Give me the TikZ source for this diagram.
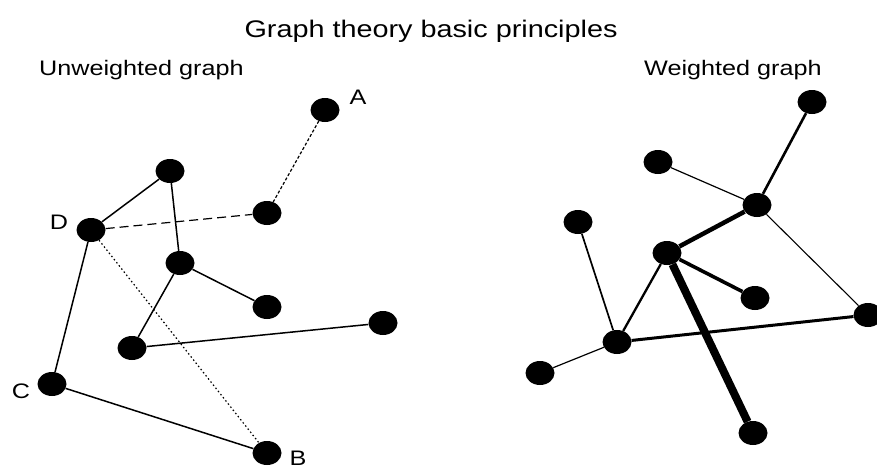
\documentclass[tikz,border=0pt]{standalone}
\usepackage{fontspec}
\setmainfont{Liberation Sans}[FakeStretch=1.2]
\usetikzlibrary{shapes.geometric}

\tikzset{
  dot/.style={ellipse,fill=black,minimum width=29pt,minimum height=24pt,inner sep=0pt},
  lbl/.style={font=\fontsize{21}{25}\selectfont,inner sep=1pt},
  link/.style={line width=1.5pt},
}

\begin{document}
\begin{tikzpicture}[x=1pt,y=-1pt]
  \useasboundingbox (0,0) rectangle (877,469);
  % titles
  \node[anchor=base,font=\fontsize{24}{28}\selectfont] (title) at (431,37) {Graph theory basic principles};
  \node[anchor=base west,lbl] (unw) at (38,75) {Unweighted graph};
  \node[anchor=base west,lbl] (wgt) at (643,75) {Weighted graph};

  % unweighted graph
  \foreach \name/\x/\y in {A/325/110,u1/170/171,D/91/230,u2/267/213,u3/180/263,
                           u4/267/307,u5/383/323,u6/132/348,C/52/384,B/267/453}{
    \node[dot] (\name) at (\x,\y) {};
  }
  \foreach \a/\b in {D/u1,D/C,u1/u3,u3/u4,u3/u6,u6/u5,C/B}{
    \draw[link] (\a) -- (\b);
  }
  \draw[link,line width=1.2pt,dash pattern=on 9pt off 5pt] (D) -- (u2);
  \draw[link,line width=1.2pt,dash pattern=on 3pt off 2pt] (A) -- (u2);
  \draw[link,line width=1.2pt,dash pattern=on 1.5pt off 2.5pt] (D) -- (B);
  \node[lbl] (labA) at (358,97.5) {A};
  \node[lbl] (labB) at (298,458.5) {B};
  \node[lbl] (labC) at (21,391.5) {C};
  \node[lbl] (labD) at (59,222.5) {D};

  % weighted graph
  \foreach \name/\x/\y in {w1/812/102,w2/658/162,w3/757/205,w4/578/222,w5/667/253,
                           w6/755/298,w7/868/315,w8/617/342,w9/540/373,w10/753/433}{
    \node[dot] (\name) at (\x,\y) {};
  }
  \foreach \a/\b/\w in {w1/w3/2.6,w2/w3/1.2,w3/w5/4.5,w3/w7/1.1,w4/w8/1.7,
                        w5/w6/3.6,w5/w8/2.3,w5/w10/8,w8/w7/3,w8/w9/1.2}{
    \draw[line width=\w pt] (\a) -- (\b);
  }
\end{tikzpicture}
\end{document}
